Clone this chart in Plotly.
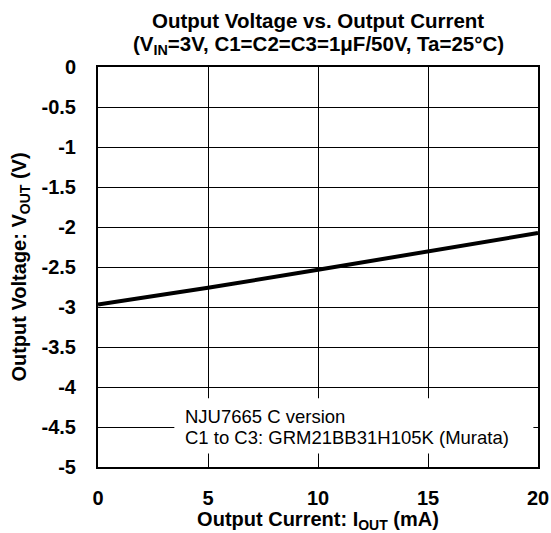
import plotly.graph_objects as go

# Data
i_out_ma = [0, 5, 10, 15, 20]
v_out_v = [-2.97, -2.76, -2.535, -2.31, -2.075]

x_ticks = [0, 5, 10, 15, 20]
y_ticks = [0, -0.5, -1, -1.5, -2, -2.5, -3, -3.5, -4, -4.5, -5]
y_tick_text = ["0", "-0.5", "-1", "-1.5", "-2", "-2.5", "-3", "-3.5", "-4", "-4.5", "-5"]

title_line1 = "Output Voltage vs. Output Current"
title_line2 = "(V<sub>IN</sub>=3V, C1=C2=C3=1μF/50V, Ta=25°C)"
note_line1 = "NJU7665 C version"
note_line2 = "C1 to C3: GRM21BB31H105K (Murata)"

FONT = "Liberation Sans, Arial, sans-serif"

fig = go.Figure()
fig.add_trace(go.Scatter(
    x=i_out_ma, y=v_out_v, mode="lines",
    line=dict(color="black", width=4),
    showlegend=False, hoverinfo="skip",
))

fig.update_layout(
    width=551, height=533,
    margin=dict(l=98, r=13, t=67, b=66),
    paper_bgcolor="white", plot_bgcolor="white",
    font=dict(family=FONT, color="black"),
    showlegend=False,
)

fig.update_xaxes(
    range=[0, 20], tickvals=x_ticks, ticktext=[f"<b>{v}</b>" for v in x_ticks],
    showgrid=True, gridcolor="black", gridwidth=1,
    showline=True, linecolor="black", linewidth=2, mirror=True,
    ticks="", ticklabelstandoff=12, zeroline=False,
    tickfont=dict(family=FONT, size=20, color="black"),
    title=dict(text="<b>Output Current: I<sub>OUT</sub> (mA)</b>",
               font=dict(family=FONT, size=20, color="black"), standoff=12),
    automargin=False,
)
fig.update_yaxes(
    range=[-5, 0], tickvals=y_ticks, ticktext=[f"<b>{t}</b>" for t in y_tick_text],
    showgrid=True, gridcolor="black", gridwidth=1,
    showline=True, linecolor="black", linewidth=2, mirror=True,
    ticks="", ticklabelstandoff=16, zeroline=False,
    tickfont=dict(family=FONT, size=20, color="black"),
    title=dict(text="<b>Output Voltage: V<sub>OUT</sub> (V)</b>",
               font=dict(family=FONT, size=20, color="black"), standoff=10),
    automargin=False,
)

# white note box that hides grid lines
fig.add_shape(type="rect", xref="x", yref="y",
              x0=3.47, x1=19.79, y0=-4.83, y1=-4.14,
              fillcolor="white", line=dict(width=0), layer="between")

fig.add_annotation(xref="x", yref="y", x=3.87, y=-4.366, text=note_line1,
                   showarrow=False, xanchor="left", yanchor="middle",
                   font=dict(family=FONT, size=18.5, color="black"))
fig.add_annotation(xref="x", yref="y", x=3.87, y=-4.629, text=note_line2,
                   showarrow=False, xanchor="left", yanchor="middle",
                   font=dict(family=FONT, size=18.5, color="black"))

fig.add_annotation(xref="paper", yref="paper", x=0.5, y=1, yshift=47,
                   text=f"<b>{title_line1}</b>", showarrow=False,
                   xanchor="center", yanchor="middle",
                   font=dict(family=FONT, size=20.5, color="black"))
fig.add_annotation(xref="paper", yref="paper", x=0.5, y=1, yshift=22,
                   text=f"<b>{title_line2}</b>", showarrow=False,
                   xanchor="center", yanchor="middle",
                   font=dict(family=FONT, size=20.5, color="black"))

fig.write_html("out.html",
               config={"displayModeBar": False, "staticPlot": True},
               post_script="document.body.style.margin='0';document.body.style.overflow='hidden';")
